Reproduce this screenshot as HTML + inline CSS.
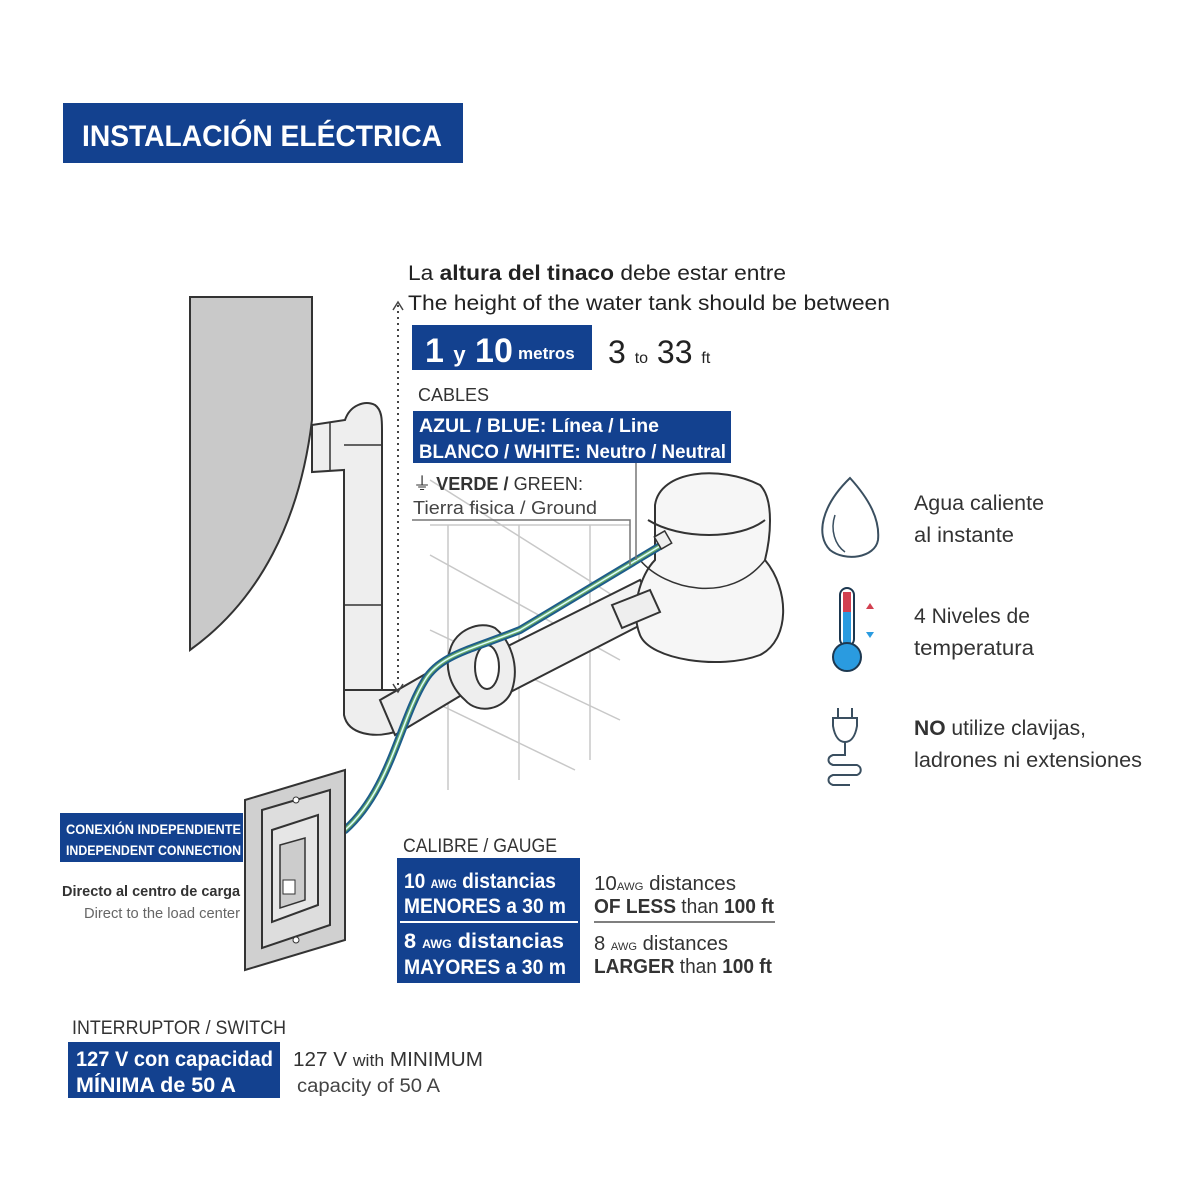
<!DOCTYPE html>
<html><head><meta charset="utf-8"><style>
html,body{margin:0;padding:0;background:#fff}
svg{display:block}
text{font-family:"Liberation Sans Narrow","Liberation Sans",sans-serif}
</style></head><body>
<svg width="1200" height="1200" viewBox="0 0 1200 1200" xmlns="http://www.w3.org/2000/svg">
<rect width="1200" height="1200" fill="#fff"/>
<rect x="63" y="103" width="400" height="60" fill="#13418f"/>
<text x="82" y="146" font-size="30" font-weight="bold" fill="#fff" textLength="360" lengthAdjust="spacingAndGlyphs">INSTALACIÓN ELÉCTRICA</text>

<g stroke="#c8c8c8" stroke-width="1.5" fill="none">
<line x1="430" y1="525" x2="630" y2="525"/>
<line x1="448" y1="525" x2="448" y2="790"/>
<line x1="519" y1="525" x2="519" y2="780"/>
<line x1="590" y1="525" x2="590" y2="760"/>
<line x1="430" y1="480" x2="620" y2="600"/>
<line x1="430" y1="555" x2="620" y2="660"/>
<line x1="430" y1="630" x2="620" y2="720"/>
<line x1="430" y1="700" x2="575" y2="770"/>
</g>

<path d="M190,297 L312,297 L312,420 C300,520 260,600 190,650 Z" fill="#c9c9c9" stroke="#333" stroke-width="2"/>

<g stroke="#333" stroke-width="2" fill="#eee">
<path d="M312,425 L345,420 C350,405 365,400 375,405 C382,410 382,420 382,430 L382,695 L344,695 L344,470 L312,472 Z"/>
<path d="M344,690 L344,715 C348,735 375,738 395,732 L420,720 L410,690 L380,690 Z"/>
<path d="M395,735 L470,690 L450,660 L380,700 Z"/>
</g>
<line x1="330" y1="423" x2="330" y2="470" stroke="#333" stroke-width="1.5"/>
<line x1="344" y1="445" x2="382" y2="445" stroke="#333" stroke-width="1.5"/>
<line x1="344" y1="605" x2="382" y2="605" stroke="#333" stroke-width="1.5"/>

<line x1="398" y1="305" x2="398" y2="690" stroke="#444" stroke-width="2" stroke-dasharray="2,4"/>
<path d="M393,310 L398,302 L403,310 M393,684 L398,692 L403,684" stroke="#444" stroke-width="1.5" fill="none"/>

<path d="M480,660 L640,580 L660,615 L495,700 Z" fill="#f2f2f2" stroke="#333" stroke-width="2"/>
<path d="M450,650 C455,630 480,620 495,628 C510,640 520,665 512,690 C505,710 478,715 465,700 C448,685 445,665 450,650 Z" fill="#eee" stroke="#333" stroke-width="2"/>
<ellipse cx="487" cy="667" rx="12" ry="22" fill="#fff" stroke="#333" stroke-width="2"/>

<path d="M655,505 C660,470 720,465 760,485 C775,500 770,540 765,560 C790,590 790,640 760,655 C720,670 650,660 640,635 C630,610 640,575 655,560 Z" fill="#f6f6f6" stroke="#333" stroke-width="2"/>
<path d="M648,520 C680,540 740,540 765,520" fill="none" stroke="#333" stroke-width="2"/>
<path d="M640,560 C665,590 730,605 765,560" fill="none" stroke="#333" stroke-width="1.5"/>
<path d="M612,605 L650,590 L660,612 L622,628 Z" fill="#eee" stroke="#333" stroke-width="2"/>

<g fill="none" stroke-linecap="round">
<path d="M345,830 C390,790 400,720 425,680 C440,655 470,650 520,630 L665,543" stroke="#1d5d8a" stroke-width="8"/>
<path d="M345,830 C390,790 400,720 425,680 C440,655 470,650 520,630 L665,543" stroke="#6aa86a" stroke-width="4"/>
<path d="M345,830 C390,790 400,720 425,680 C440,655 470,650 520,630 L665,543" stroke="#dff" stroke-width="1.5"/>
</g>
<rect x="657" y="533" width="12" height="14" fill="#eee" stroke="#333" stroke-width="1.5" transform="rotate(-30 663 540)"/>

<polyline points="412,520 630,520 630,565" fill="none" stroke="#777" stroke-width="1.5"/>
<line x1="636" y1="463" x2="636" y2="560" stroke="#777" stroke-width="1.5"/>

<path d="M245,800 L345,770 L345,940 L245,970 Z" fill="#d0d0d0" stroke="#333" stroke-width="2"/>
<path d="M262,810 L330,790 L330,925 L262,948 Z" fill="#ddd" stroke="#333" stroke-width="2"/>
<path d="M272,830 L318,815 L318,905 L272,922 Z" fill="#e6e6e6" stroke="#333" stroke-width="2"/>
<path d="M280,845 L305,838 L305,900 L280,908 Z" fill="#ccc" stroke="#333" stroke-width="1.5"/>
<rect x="283" y="880" width="12" height="14" fill="#fff" stroke="#333"/>
<circle cx="296" cy="800" r="3" fill="#fff" stroke="#333"/>
<circle cx="296" cy="940" r="3" fill="#fff" stroke="#333"/>

<text x="408" y="280" font-size="21" fill="#222" textLength="378" lengthAdjust="spacingAndGlyphs">La <tspan font-weight="bold">altura del tinaco</tspan> debe estar entre</text>
<text x="408" y="310" font-size="21" fill="#222" textLength="482" lengthAdjust="spacingAndGlyphs">The height of the water tank should be between</text>
<rect x="412" y="325" width="180" height="45" fill="#13418f"/>
<text x="425" y="362" font-size="34" fill="#fff" font-weight="bold">1 <tspan font-size="22">y</tspan> 10</text>
<text x="518" y="359" font-size="17" fill="#fff" font-weight="bold">metros</text>
<text x="608" y="363" font-size="32" fill="#222">3 <tspan font-size="16">to</tspan> 33 <tspan font-size="16">ft</tspan></text>
<text x="418" y="401" font-size="18" fill="#333">CABLES</text>
<rect x="413" y="411" width="318" height="52" fill="#13418f"/>
<text x="419" y="432" font-size="19" fill="#fff" font-weight="bold" textLength="240" lengthAdjust="spacingAndGlyphs">AZUL / BLUE:  Línea / Line</text>
<text x="419" y="458" font-size="19" fill="#fff" font-weight="bold" textLength="307" lengthAdjust="spacingAndGlyphs">BLANCO / WHITE:  Neutro / Neutral</text>
<text x="413" y="490" font-size="18" fill="#333" textLength="170" lengthAdjust="spacingAndGlyphs">⏚ <tspan font-weight="bold">VERDE /</tspan> GREEN:</text>
<text x="413" y="514" font-size="18" fill="#444" textLength="184" lengthAdjust="spacingAndGlyphs">Tierra fisica / Ground</text>

<path d="M850,478 C870,500 880,520 878,540 C875,558 845,562 830,550 C815,535 822,505 850,478 Z" fill="none" stroke="#3a4f60" stroke-width="2"/>
<path d="M835,515 C830,530 835,545 845,552" fill="none" stroke="#3a4f60" stroke-width="1.5"/>
<text x="914" y="510" font-size="21" fill="#333" textLength="130" lengthAdjust="spacingAndGlyphs">Agua caliente</text>
<text x="914" y="542" font-size="21" fill="#333" textLength="100" lengthAdjust="spacingAndGlyphs">al instante</text>
<rect x="840" y="588" width="14" height="58" rx="7" fill="#fff" stroke="#1d3850" stroke-width="2"/>
<rect x="843" y="592" width="8" height="20" fill="#d24050"/>
<rect x="843" y="612" width="8" height="40" fill="#2a9be0"/>
<circle cx="847" cy="657" r="14" fill="#2a9be0" stroke="#1d3850" stroke-width="2"/>
<path d="M866,609 L870,603 L874,609 Z" fill="#d24050"/>
<path d="M866,632 L870,638 L874,632 Z" fill="#2a9be0"/>
<text x="914" y="623" font-size="21" fill="#333" textLength="116" lengthAdjust="spacingAndGlyphs">4 Niveles de</text>
<text x="914" y="655" font-size="21" fill="#333" textLength="120" lengthAdjust="spacingAndGlyphs">temperatura</text>
<g fill="none" stroke="#3a4f60" stroke-width="2">
<path d="M838,708 L838,718 M852,708 L852,718 M833,718 L857,718 L857,726 C855,738 850,742 845,742 C840,742 835,738 833,726 Z"/>
<path d="M845,742 L845,755 L833,755 C827,757 827,763 833,765 L857,765 C862,767 862,773 857,775 L833,775 C827,777 827,783 833,785 L850,785"/>
</g>
<text x="914" y="735" font-size="21" fill="#333" textLength="172" lengthAdjust="spacingAndGlyphs"><tspan font-weight="bold">NO</tspan> utilize clavijas,</text>
<text x="914" y="767" font-size="21" fill="#333" textLength="228" lengthAdjust="spacingAndGlyphs">ladrones ni extensiones</text>

<rect x="60" y="813" width="183" height="49" fill="#13418f"/>
<text x="66" y="834" font-size="14" fill="#fff" font-weight="bold" textLength="175" lengthAdjust="spacingAndGlyphs">CONEXIÓN INDEPENDIENTE</text>
<text x="66" y="855" font-size="14" fill="#fff" font-weight="bold" textLength="175" lengthAdjust="spacingAndGlyphs">INDEPENDENT CONNECTION</text>
<text x="240" y="896" font-size="15" fill="#333" font-weight="bold" text-anchor="end" textLength="178" lengthAdjust="spacingAndGlyphs">Directo al centro de carga</text>
<text x="240" y="918" font-size="15" fill="#666" text-anchor="end" textLength="156" lengthAdjust="spacingAndGlyphs">Direct to the load center</text>

<text x="403" y="852" font-size="19" fill="#333" textLength="154" lengthAdjust="spacingAndGlyphs">CALIBRE / GAUGE</text>
<rect x="397" y="858" width="183" height="125" fill="#13418f"/>
<line x1="400" y1="922" x2="578" y2="922" stroke="#fff" stroke-width="2"/>
<text x="404" y="888" font-size="21" fill="#fff" font-weight="bold" textLength="152" lengthAdjust="spacingAndGlyphs">10 <tspan font-size="12">AWG</tspan> distancias</text>
<text x="404" y="913" font-size="21" fill="#fff" font-weight="bold" textLength="162" lengthAdjust="spacingAndGlyphs">MENORES a 30 m</text>
<text x="404" y="948" font-size="21" fill="#fff" font-weight="bold" textLength="160" lengthAdjust="spacingAndGlyphs">8 <tspan font-size="12">AWG</tspan>   distancias</text>
<text x="404" y="974" font-size="21" fill="#fff" font-weight="bold" textLength="162" lengthAdjust="spacingAndGlyphs">MAYORES a 30 m</text>
<text x="594" y="890" font-size="20" fill="#333" textLength="142" lengthAdjust="spacingAndGlyphs">10<tspan font-size="11">AWG</tspan> distances</text>
<text x="594" y="913" font-size="20" fill="#333" textLength="180" lengthAdjust="spacingAndGlyphs"><tspan font-weight="bold">OF LESS</tspan> than <tspan font-weight="bold">100 ft</tspan></text>
<line x1="594" y1="922" x2="775" y2="922" stroke="#555" stroke-width="1.5"/>
<text x="594" y="950" font-size="20" fill="#333" textLength="134" lengthAdjust="spacingAndGlyphs">8 <tspan font-size="11">AWG</tspan> distances</text>
<text x="594" y="973" font-size="20" fill="#333" textLength="178" lengthAdjust="spacingAndGlyphs"><tspan font-weight="bold">LARGER</tspan> than <tspan font-weight="bold">100 ft</tspan></text>

<text x="72" y="1034" font-size="19" fill="#333" textLength="214" lengthAdjust="spacingAndGlyphs">INTERRUPTOR / SWITCH</text>
<rect x="68" y="1042" width="212" height="56" fill="#13418f"/>
<text x="76" y="1066" font-size="21" fill="#fff" font-weight="bold" textLength="197" lengthAdjust="spacingAndGlyphs">127 V  con capacidad</text>
<text x="76" y="1092" font-size="21" fill="#fff" font-weight="bold" textLength="160" lengthAdjust="spacingAndGlyphs">MÍNIMA de  50 A</text>
<text x="293" y="1066" font-size="20" fill="#333" textLength="190" lengthAdjust="spacingAndGlyphs">127 V <tspan font-size="17">with</tspan> MINIMUM</text>
<text x="297" y="1092" font-size="19" fill="#444" textLength="143" lengthAdjust="spacingAndGlyphs">capacity of 50 A</text>
</svg>
</body></html>
